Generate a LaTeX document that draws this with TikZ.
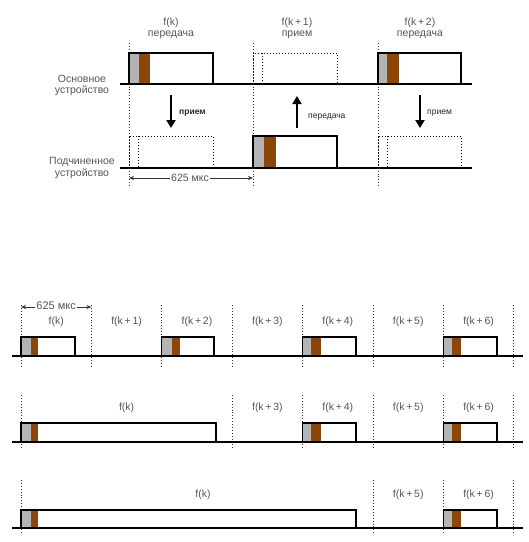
\documentclass[tikz,border=0pt]{standalone}
\usepackage{fontspec}
\setmainfont{Liberation Sans}
\usetikzlibrary{arrows.meta}
\definecolor{gfill}{RGB}{180,180,180}
\definecolor{bfill}{RGB}{140,70,10}
\definecolor{txt}{RGB}{85,85,85}
\newcommand\txframe[6]{%
  \fill[gfill] (#1,#3) rectangle (#5,#4);
  \fill[bfill] (#5,#3) rectangle (#6,#4);
  \draw[boxline] (#1,#4) rectangle (#2,#3);}
\newcommand\rxframe[5]{%
  \draw[rxline] (#1,#4) -- (#1,#3) -- (#2,#3) -- (#2,#4);
  \draw[rxline] (#5,#3) -- (#5,#4);}
\begin{document}
\begin{tikzpicture}[x=1pt,y=-1pt,
  boxline/.style={draw=black,line width=1.2pt},
  base/.style={draw=black,line width=1.2pt},
  gridline/.style={draw=black!80,line width=0.9pt,dash pattern=on 0.9pt off 2pt},
  rxline/.style={draw=black,line width=1pt,dash pattern=on 1pt off 2pt},
  lbl/.style={text=txt,font=\fontsize{10.5}{12}\selectfont,inner sep=0pt},
  alb/.style={text=black!85,font=\fontsize{8.5}{10}\selectfont,inner sep=0pt,anchor=west},
  bigarrow/.style={draw=black,line width=2.6pt,-{Triangle[width=9pt,length=8pt]}},
  dimarrow/.style={draw=black!80,line width=0.7pt,{Stealth[length=5pt,width=4pt]}-{Stealth[length=5pt,width=4pt]}},
]
\useasboundingbox (0,0) rectangle (529,542);
% ---------- top diagram ----------
\foreach \x in {129,253,378} \draw[gridline] (\x,43) -- (\x,188);
\draw[base] (120,84) -- (472,84);
\draw[base] (120,168) -- (472,168);
% master
\txframe{129}{213}{53}{84}{139}{150}
\rxframe{253}{337}{53}{84}{262}
\txframe{378}{461}{53}{84}{387}{399}
% slave
\rxframe{129}{213}{136}{168}{138}
\txframe{253}{337}{136}{168}{264}{276}
\rxframe{378}{461}{136}{168}{387}
% labels
\node[lbl] (t1a) at (171,23) {f(k)};
\node[lbl] (t1b) at (171,35) {передача};
\node[lbl] (t2a) at (297,23) {f(k\,+\,1)};
\node[lbl] (t2b) at (297,35) {прием};
\node[lbl] (t3a) at (420,23) {f(k\,+\,2)};
\node[lbl] (t3b) at (420,35) {передача};
\node[lbl] (m1) at (82,79) {Основное};
\node[lbl] (m2) at (82,91) {устройство};
\node[lbl] (s1) at (82,162) {Подчиненное};
\node[lbl] (s2) at (82,174) {устройство};
% arrows
\coordinate (a1s) at (171,95); \coordinate (a1e) at (171,128);
\draw[bigarrow] (a1s) -- (a1e);
\node[alb,font=\bfseries\fontsize{8.5}{10}\selectfont] (a1l) at (179,113) {прием};
\coordinate (a2s) at (297,128); \coordinate (a2e) at (297,96);
\draw[bigarrow] (a2s) -- (a2e);
\node[alb] (a2l) at (308,117) {передача};
\coordinate (a3s) at (420,95); \coordinate (a3e) at (420,128);
\draw[bigarrow] (a3s) -- (a3e);
\node[alb] (a3l) at (427,113) {прием};
% 625
\coordinate (d1s) at (129,178); \coordinate (d1e) at (253,178);
\draw[dimarrow] (d1s) -- (d1e);
\node[lbl,fill=white,inner xsep=1pt,inner ysep=1pt] (d1l) at (190,178) {625 мкс};
% ---------- bottom diagram ----------
% row 1
\foreach \x in {21,91.4,161.8,232.2,302.6,373,443.4,513.8} \draw[gridline] (\x,305) -- (\x,367);
\draw[base] (12,356) -- (523,356);
\txframe{21}{75}{337}{356}{31}{38}
\txframe{161.8}{214}{337}{356}{172}{180}
\txframe{302.6}{356}{337}{356}{311}{321}
\txframe{443.4}{497}{337}{356}{452}{461}
\node[lbl] (r1a) at (56.2,322) {f(k)};
\node[lbl] (r1b) at (126.6,322) {f(k\,+\,1)};
\node[lbl] (r1c) at (197,322) {f(k\,+\,2)};
\node[lbl] (r1d) at (267.4,322) {f(k\,+\,3)};
\node[lbl] (r1e) at (337.8,322) {f(k\,+\,4)};
\node[lbl] (r1f) at (408.2,322) {f(k\,+\,5)};
\node[lbl] (r1g) at (478.6,322) {f(k\,+\,6)};
\coordinate (d2s) at (21,307); \coordinate (d2e) at (91.4,307);
\draw[dimarrow] (d2s) -- (d2e);
\node[lbl,fill=white,inner xsep=1pt,inner ysep=1pt,font=\fontsize{11}{12}\selectfont] (d2l) at (56.2,306) {625 мкс};
% row 2
\foreach \x in {21,232.2,302.6,373,443.4,513.8} \draw[gridline] (\x,395) -- (\x,450);
\draw[base] (12,442) -- (523,442);
\txframe{21}{216}{423}{442}{31}{38}
\txframe{302.6}{356}{423}{442}{311}{321}
\txframe{443.4}{497}{423}{442}{452}{461}
\node[lbl] (r2a) at (126.6,408) {f(k)};
\node[lbl] (r2d) at (267.4,408) {f(k\,+\,3)};
\node[lbl] (r2e) at (337.8,408) {f(k\,+\,4)};
\node[lbl] (r2f) at (408.2,408) {f(k\,+\,5)};
\node[lbl] (r2g) at (478.6,408) {f(k\,+\,6)};
% row 3
\foreach \x in {21,373,443.4,513.8} \draw[gridline] (\x,480) -- (\x,535);
\draw[base] (12,528) -- (523,528);
\txframe{21}{356}{510}{528}{31}{38}
\txframe{443.4}{497}{510}{528}{452}{461}
\node[lbl] (r3a) at (203,495) {f(k)};
\node[lbl] (r3f) at (408.2,495) {f(k\,+\,5)};
\node[lbl] (r3g) at (478.6,495) {f(k\,+\,6)};
\end{tikzpicture}
\end{document}
